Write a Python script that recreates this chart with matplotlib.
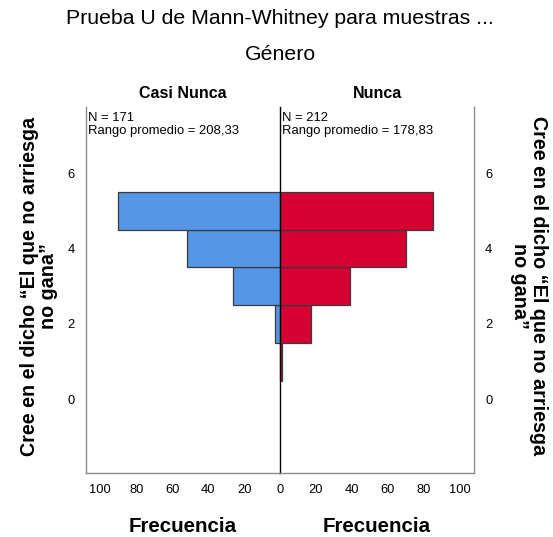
import matplotlib
matplotlib.use("Agg")
import matplotlib.pyplot as plt

plt.rcParams["font.family"] = ["Liberation Sans", "DejaVu Sans"]

# rating levels (bin centres) and counts per group
levels = [1, 2, 3, 4, 5]
casi_nunca = [0, 3, 26, 52, 90]
nunca = [1, 17, 39, 70, 85]

groups = ["Casi Nunca", "Nunca"]
stats = ["N = 171\nRango promedio = 208,33", "N = 212\nRango promedio = 178,83"]
yticks = [0, 2, 4, 6]
xticks = [0, 20, 40, 60, 80, 100]

BLUE = "#5596e6"
RED = "#d70032"
GRAY = "#8c8c8c"

fig = plt.figure(figsize=(5.53, 5.37), dpi=100)
W, H = 553, 537
left_px, mid_px, right_px = 86, 280, 474
top_px, bot_px = 107, 473

axl = fig.add_axes([left_px / W, 1 - bot_px / H, (mid_px - left_px) / W, (bot_px - top_px) / H])
axr = fig.add_axes([mid_px / W, 1 - bot_px / H, (right_px - mid_px) / W, (bot_px - top_px) / H], sharey=axl)

axl.barh(levels, casi_nunca, height=1.0, color=BLUE, edgecolor="#3a3a3a", linewidth=0.9)
axr.barh(levels, nunca, height=1.0, color=RED, edgecolor="#3a3a3a", linewidth=0.9)

axl.set_xlim(108, 0)
axr.set_xlim(0, 108)
axl.set_ylim(-1.95, 7.75)

for ax in (axl, axr):
    ax.set_xticks(xticks)
    ax.set_xticklabels([str(t) for t in xticks])
    ax.set_yticks(yticks)
    ax.tick_params(length=0, labelsize=9.3, pad=8)
    for s in ax.spines.values():
        s.set_color(GRAY)
        s.set_linewidth(1.0)

axl.spines["right"].set_visible(False)
axr.spines["left"].set_color("black")
axr.spines["left"].set_linewidth(1.0)
axl.spines["top"].set_visible(False)
axr.spines["top"].set_visible(False)
axr.yaxis.tick_right()
axr.tick_params(labelright=True, labelleft=False)
axr.set_xticks(xticks[1:])
axr.set_xticklabels([str(t) for t in xticks[1:]])

axl.text(0.012, 0.985, stats[0], transform=axl.transAxes, va="top", ha="left", fontsize=9.4, linespacing=1.05)
axr.text(0.012, 0.985, stats[1], transform=axr.transAxes, va="top", ha="left", fontsize=9.4, linespacing=1.05)

axl.set_xlabel("Frecuencia", fontsize=14.8, fontweight="bold", labelpad=15)
axr.set_xlabel("Frecuencia", fontsize=14.8, fontweight="bold", labelpad=15)

ylab = "Cree en el dicho “El que no arriesga\nno gana”"
fig.text(39 / W, 1 - 286 / H, ylab, rotation=90, ha="center", va="center",
         fontsize=14.2, fontweight="bold", linespacing=0.95)
fig.text(529 / W, 1 - 286 / H, ylab, rotation=270, ha="center", va="center",
         fontsize=14.2, fontweight="bold", linespacing=0.95)

fig.text((left_px + mid_px) / 2 / W, 1 - 93 / H, groups[0], ha="center", va="center",
         fontsize=11.5, fontweight="bold")
fig.text((mid_px + right_px) / 2 / W, 1 - 93 / H, groups[1], ha="center", va="center",
         fontsize=11.5, fontweight="bold")

fig.text(280 / W, 1 - 19 / H, "Prueba U de Mann-Whitney para muestras ...", ha="center", va="center", fontsize=15.3)
fig.text(280 / W, 1 - 55 / H, "Género", ha="center", va="center", fontsize=15.3)

fig.savefig("out.png", dpi=100)
